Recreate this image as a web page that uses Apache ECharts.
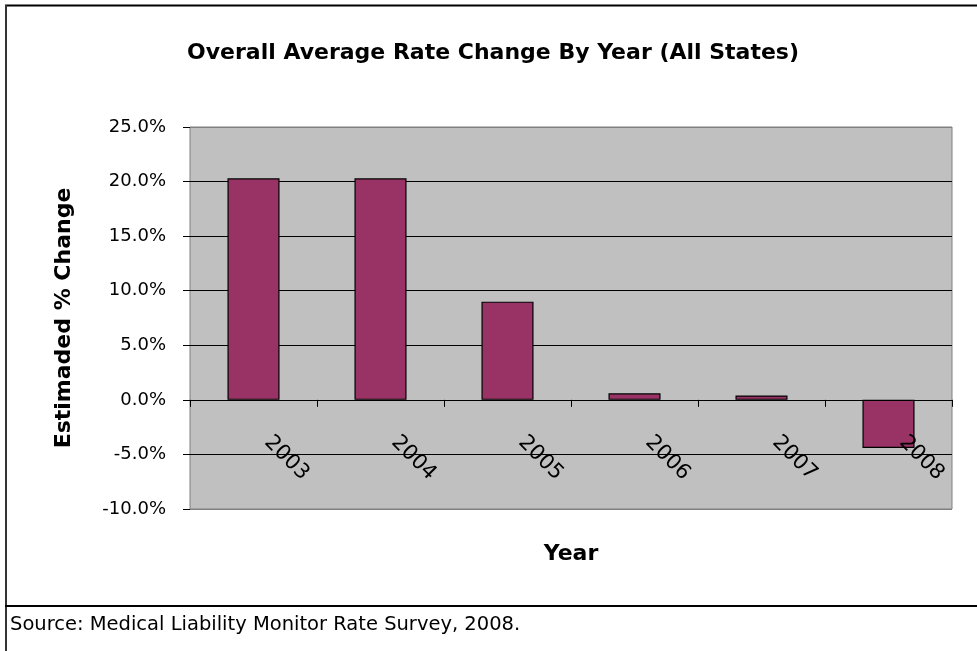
<!DOCTYPE html>
<html>
<head>
<meta charset="utf-8">
<script src="https://cdn.jsdelivr.net/npm/echarts@6/dist/echarts.min.js"></script>
<style>
html,body{margin:0;padding:0;background:#fff;}
#c{width:977px;height:651px;}
</style>
</head>
<body>
<div id="c"></div>
<script>
var categories = ['2003', '2004', '2005', '2006', '2007', '2008'];
var values = [20.3, 20.3, 9.0, 0.6, 0.4, -4.4];
var yTicks = { min: -10, max: 25, interval: 5 };
var titleText = 'Overall Average Rate Change By Year (All States)';
var yName = 'Estimaded % Change';
var xName = 'Year';
var sourceText = 'Source: Medical Liability Monitor Rate Survey, 2008.';

var FONT = '"DejaVu Sans", Verdana, sans-serif';
var chart = echarts.init(document.getElementById('c'));
chart.setOption({
  backgroundColor: '#ffffff',
  animation: false,
  title: {
    text: titleText,
    left: 488, top: 37, textAlign: 'center',
    textStyle: { fontFamily: FONT, fontSize: 22, fontWeight: 'bold', color: '#000' }
  },
  grid: {
    left: 190, right: 25, top: 127, bottom: 142,
    containLabel: false, outerBoundsMode: 'none',
    show: true, backgroundColor: '#c0c0c0', borderColor: '#808080', borderWidth: 1
  },
  xAxis: {
    type: 'category',
    z: 5,
    data: categories,
    name: xName,
    nameLocation: 'middle',
    nameGap: 34,
    nameTextStyle: { fontFamily: FONT, fontSize: 22, fontWeight: 'bold', color: '#000' },
    axisLine: { onZero: true, lineStyle: { color: '#000', width: 1 } },
    axisTick: { show: true, alignWithLabel: false, length: 7, lineStyle: { color: '#000' } },
    axisLabel: { rotate: -45, margin: -84, padding: [0, 0, 0, 20], interval: 0, hideOverlap: false,
      fontFamily: FONT, fontSize: 21, color: '#000' },
    splitLine: { show: false }
  },
  yAxis: {
    type: 'value',
    min: yTicks.min, max: yTicks.max, interval: yTicks.interval,
    name: yName,
    nameLocation: 'middle',
    nameGap: 115,
    nameTextStyle: { fontFamily: FONT, fontSize: 22, fontWeight: 'bold', color: '#000' },
    axisLine: { show: false },
    axisTick: { show: true, length: 7, lineStyle: { color: '#000' } },
    axisLabel: {
      margin: 24, fontFamily: FONT, fontSize: 18, color: '#000',
      formatter: function (v) { return v.toFixed(1) + '%'; }
    },
    splitLine: { show: true, lineStyle: { color: ['#808080', '#000', '#000', '#000', '#000', '#000', '#000', '#808080'], width: 1 } }
  },
  series: [{
    type: 'bar',
    data: values,
    barWidth: '41%',
    itemStyle: { color: '#993366', borderColor: '#000', borderWidth: 1.2 }
  }],
  graphic: [
    { type: 'line', shape: { x1: 5, y1: 5.5, x2: 977, y2: 5.5 }, style: { stroke: '#000', lineWidth: 2 } },
    { type: 'line', shape: { x1: 6, y1: 5, x2: 6, y2: 651 }, style: { stroke: '#333', lineWidth: 2 } },
    { type: 'line', shape: { x1: 5, y1: 606, x2: 977, y2: 606 }, style: { stroke: '#000', lineWidth: 2 } },
    { type: 'text', left: 10, top: 615, style: { text: sourceText, fontFamily: FONT, fontSize: 19.5, fill: '#000' } }
  ]
});
</script>
</body>
</html>
